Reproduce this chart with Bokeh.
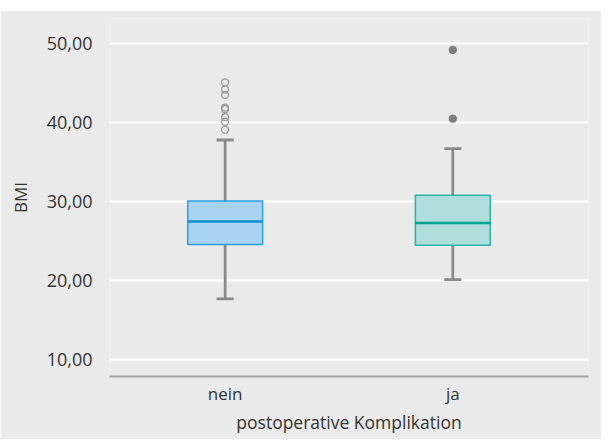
from bokeh.plotting import figure
from bokeh.models import Range1d, FixedTicker, Spacer
from bokeh.layouts import column
from bokeh.embed import file_html
from bokeh.resources import INLINE

# ---- data ----
categories = ["nein", "ja"]
q1 = [24.6, 24.5]
median = [27.5, 27.3]
q3 = [30.1, 30.8]
whisker_low = [17.7, 20.15]
whisker_high = [37.8, 36.7]
outliers_nein = [45.1, 44.2, 43.5, 41.9, 41.7, 40.7, 40.1, 39.1]
outliers_ja = [49.2, 40.5]
y_ticks = [10, 20, 30, 40, 50]
y_tick_labels = ["10,00", "20,00", "30,00", "40,00", "50,00"]
x_title = "postoperative Komplikation"
y_title = "BMI"

fill_colors = ["#A9D3F0", "#AEDDDB"]
line_colors = ["#2AA0E0", "#2BB5A6"]
median_colors = ["#0E8ED5", "#00A390"]

BG = "#EAEBEA"
TXT = "#333333"
FONT = "Open Sans"

xs = list(range(len(categories)))

p = figure(width=601, height=429, output_backend="svg", toolbar_location=None,
           x_range=Range1d(-0.508, 1.596), y_range=Range1d(7.89, 53.17),
           min_border_left=109, min_border_right=13, min_border_top=8,
           min_border_bottom=63)
p.background_fill_color = BG
p.border_fill_color = BG
p.outline_line_color = None

# grid
p.xgrid.grid_line_color = None
p.ygrid.grid_line_color = "white"
p.ygrid.grid_line_width = 2
p.ygrid.ticker = FixedTicker(ticks=y_ticks)

# axes
p.yaxis.ticker = FixedTicker(ticks=y_ticks)
p.yaxis.major_label_overrides = {t: l for t, l in zip(y_ticks, y_tick_labels)}
p.yaxis.axis_line_color = None
p.yaxis.major_tick_line_color = None
p.yaxis.minor_tick_line_color = None
p.yaxis.major_label_standoff = 11
p.yaxis.axis_label = y_title
p.yaxis.axis_label_standoff = 12

p.xaxis.ticker = FixedTicker(ticks=xs)
p.xaxis.major_label_overrides = {i: c for i, c in zip(xs, categories)}
p.xaxis.axis_line_color = "#A3A3A3"
p.xaxis.axis_line_width = 2
p.xaxis.major_tick_line_color = None
p.xaxis.minor_tick_line_color = None
p.xaxis.major_label_standoff = -1
p.xaxis.axis_label = x_title
p.xaxis.axis_label_standoff = 2

for ax in (p.xaxis[0], p.yaxis[0]):
    ax.major_label_text_font = FONT
    ax.major_label_text_color = TXT
    ax.axis_label_text_font = FONT
    ax.axis_label_text_font_style = "normal"
    ax.axis_label_text_color = TXT
p.yaxis.major_label_text_font_size = "18px"
p.xaxis.major_label_text_font_size = "17px"
p.xaxis.axis_label_text_font_size = "17.5px"
p.yaxis.axis_label_text_font_size = "17px"

WH = "#8A8A8A"
box_w = 0.329
cap_w = 0.075

# whiskers
p.segment(xs, q3, xs, whisker_high, line_color=WH, line_width=2.8)
p.segment(xs, q1, xs, whisker_low, line_color=WH, line_width=2.8)
p.segment([x - cap_w / 2 for x in xs], whisker_high, [x + cap_w / 2 for x in xs], whisker_high,
          line_color=WH, line_width=2.8)
p.segment([x - cap_w / 2 for x in xs], whisker_low, [x + cap_w / 2 for x in xs], whisker_low,
          line_color=WH, line_width=2.8)

# boxes
p.vbar(x=xs, width=box_w, bottom=q1, top=q3, fill_color=fill_colors,
       line_color=line_colors, line_width=1.5)
p.segment([x - box_w / 2 for x in xs], median, [x + box_w / 2 for x in xs], median,
          line_color=median_colors, line_width=2.5)

# outliers
p.scatter([xs[0]] * len(outliers_nein), outliers_nein, size=7, fill_color=None,
          line_color="#999999", line_width=1.2)
p.scatter([xs[1]] * len(outliers_ja), outliers_ja, size=7.5, fill_color="#7F7F7F",
          line_color="#7F7F7F")

layout = column(Spacer(width=601, height=10), p, spacing=0)

open("out.html", "w").write(file_html(layout, INLINE))
